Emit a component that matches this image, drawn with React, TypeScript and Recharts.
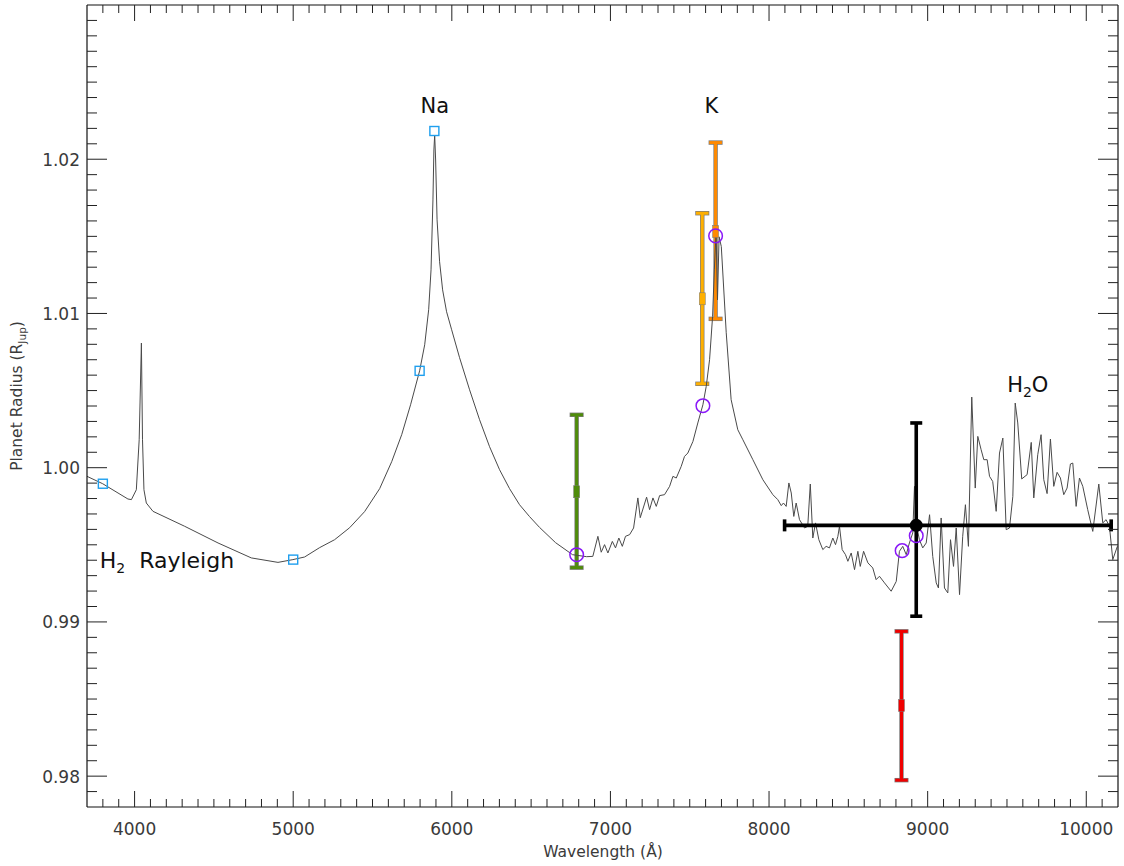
import React from 'react';
import { ComposedChart, Line, Scatter, XAxis, YAxis, ErrorBar, ReferenceDot } from 'recharts';

// Model transmission spectrum, split by region (wavelength in Å, radius in R_Jup)
const blueWavelength = [3700, 3799, 3958, 3980, 4011, 4029, 4043, 4050, 4059, 4074, 4116, 4316, 4526, 4736, 4904, 4998, 5072];
const blueRadius = [0.99944, 0.99896, 0.99797, 0.99793, 0.99857, 1.00181, 1.00808, 1.00181, 0.99857, 0.99771, 0.99717, 0.9962, 0.99512, 0.99415, 0.99386, 0.99404, 0.99421];

const sodiumWavelength = [
  5167, 5261, 5356, 5450, 5545, 5621, 5684, 5740, 5797, 5829, 5854, 5869, 5881, 5887, 5892, 5898, 5907,
  5923, 5942, 5967, 5999, 6049, 6112, 6175, 6238, 6301, 6364, 6427, 6490, 6553, 6654, 6761, 6850,
];
const sodiumRadius = [
  0.99482, 0.99533, 0.99611, 0.99715, 0.99864, 1.00039, 1.00214, 1.00408, 1.00628, 1.00797, 1.01024, 1.01283,
  1.01736, 1.0206, 1.02157, 1.01995, 1.01607, 1.01335, 1.01153, 1.01011, 1.00894, 1.00713, 1.00505, 1.00311,
  1.00136, 0.99987, 0.99864, 0.9976, 0.99683, 0.99613, 0.99514, 0.99436, 0.99423,
];

const redWingWavelength = [
  6889, 6921, 6942, 6963, 6984, 7012, 7032, 7053, 7075, 7095, 7121, 7146, 7173, 7188, 7228, 7247, 7268, 7289,
  7310, 7341, 7373, 7394, 7415, 7446, 7467, 7488, 7520, 7551, 7583, 7604,
];
const redWingRadius = [
  0.99425, 0.99555, 0.99452, 0.99501, 0.99447, 0.99522, 0.9948, 0.99544, 0.9949, 0.99555, 0.99566, 0.99609,
  0.99804, 0.99676, 0.99809, 0.99728, 0.99804, 0.99749, 0.99819, 0.99825, 0.99879, 0.99944, 0.99933, 1.00008,
  1.00073, 1.00095, 1.0017, 1.0029, 1.00408, 1.00527,
];

const potassiumWavelength = [7625, 7644, 7655, 7666, 7675, 7685, 7699, 7730, 7761, 7803, 7835, 7898, 7961, 8024];
const potassiumRadius = [1.007, 1.0098, 1.01283, 1.01529, 1.01088, 1.01497, 1.01434, 1.00875, 1.00441, 1.00246, 1.00181, 1.00052, 0.99922, 0.99825];

const nirWavelength = [
  8055, 8077, 8091, 8108, 8125, 8140, 8156, 8171, 8192, 8224, 8244, 8260, 8276, 8293, 8314, 8339, 8360, 8381,
  8402, 8419, 8434, 8444, 8461, 8482, 8497, 8518, 8539, 8560, 8575, 8596, 8623, 8654, 8675, 8696, 8728, 8770,
  8802, 8822, 8843, 8865, 8885, 8906, 8917, 8931, 8948, 8969, 8991, 9012, 9032, 9054, 9068,
];
const nirRadius = [
  0.99793, 0.99754, 0.99771, 0.99749, 0.99901, 0.99836, 0.99684, 0.99771, 0.99663, 0.99609, 0.9962, 0.99894,
  0.99544, 0.99642, 0.99533, 0.99469, 0.9949, 0.9948, 0.99544, 0.99501, 0.99555, 0.9962, 0.99469, 0.99436,
  0.99393, 0.99447, 0.99339, 0.99458, 0.9936, 0.99458, 0.99383, 0.9935, 0.99274, 0.99296, 0.99253, 0.99199,
  0.99263, 0.99458, 0.9949, 0.99436, 0.99512, 0.99577, 0.99879, 0.9962, 0.99533, 0.9948, 0.99512, 0.99695,
  0.99425, 0.99253, 0.9922,
];

const waterWavelength = [
  9085, 9106, 9127, 9144, 9163, 9180, 9201, 9221, 9238, 9257, 9278, 9300, 9316, 9337, 9354, 9375, 9390, 9410,
  9432, 9453, 9474, 9495, 9516, 9537, 9552, 9568, 9593, 9627, 9653, 9669, 9694, 9715, 9732, 9753, 9774, 9795,
  9816, 9837, 9858, 9879, 9900, 9915, 9936, 9957, 9978, 10009, 10041, 10079, 10104, 10125, 10146, 10167, 10196,
];
const waterRadius = [
  0.99674, 0.9922, 0.99188, 0.99533, 0.9936, 0.99609, 0.99177, 0.99555, 0.9976, 0.9949, 1.00458, 0.99868,
  1.00203, 1.00117, 1.00052, 1.00052, 0.99944, 0.99911, 0.99717, 1.00095, 1.00192, 0.99598, 0.99609, 0.99814,
  1.00419, 1.0029, 0.99927, 0.99955, 1.00164, 0.99804, 1.00084, 1.00214, 0.99922, 0.99832, 1.00186, 0.99879,
  0.9997, 0.99933, 0.99825, 0.99868, 1.00024, 1.0003, 0.99749, 0.99933, 0.99879, 0.99728, 0.99587, 0.99894,
  0.99642, 0.99663, 0.9962, 0.99404, 0.9949,
];

// Light-blue squares (binned model)
const squareWavelength = [3800, 5000, 5797, 5890];
const squareRadius = [0.99896, 0.99404, 1.00628, 1.02183];

// Purple circles
const circleWavelength = [6787, 7583, 7663, 8839, 8928];
const circleRadius = [0.99436, 1.00402, 1.01503, 0.99462, 0.99559];

// Colored measurements with vertical error bars
const greenPoint = { wavelength: 6787, radius: 0.99844, low: 0.00492, high: 0.00499 };
const yellowPoint = { wavelength: 7579, radius: 1.01095, low: 0.00551, high: 0.00555 };
const orangePoint = { wavelength: 7663, radius: 1.01531, low: 0.00566, high: 0.00577 };
const redPoint = { wavelength: 8835, radius: 0.98458, low: 0.00484, high: 0.00481 };
// Black broadband point with x and y error
const blackPoint = { wavelength: 8928, radius: 0.99626, low: 0.00589, high: 0.00664, left: 830, right: 1229 };

// Ticks
const xMajorTicks = [4000, 5000, 6000, 7000, 8000, 9000, 10000];
const yMajorTicks = [0.98, 0.99, 1.0, 1.01, 1.02];
const xTicks = Array.from({ length: 64 }, (_, i) => 3800 + i * 100);
const yTicks = Array.from({ length: 51 }, (_, i) => (979 + i) / 1000);

const modelWavelength = [
  ...blueWavelength, ...sodiumWavelength, ...redWingWavelength, ...potassiumWavelength, ...nirWavelength, ...waterWavelength,
];
const modelRadius = [...blueRadius, ...sodiumRadius, ...redWingRadius, ...potassiumRadius, ...nirRadius, ...waterRadius];

const modelData = modelWavelength.map((x, i) => ({ x, y: modelRadius[i] }));
const squareData = squareWavelength.map((x, i) => ({ x, y: squareRadius[i] }));
const circleData = circleWavelength.map((x, i) => ({ x, y: circleRadius[i] }));
const toErr = (p: any) => [{ x: p.wavelength, y: p.radius, ey: [p.low, p.high], ex: p.left ? [p.left, p.right] : 0 }];

const FONT = 'DejaVu Sans';
const TICK_COLOR = '#222';
const LABEL_COLOR = '#3a3a3a';

const isXMajor = (v: number) => xMajorTicks.includes(Math.round(v));
const isYMajor = (v: number) => yMajorTicks.some((t) => Math.abs(t - v) < 1e-6);

const BottomTick = (props: any) => {
  const { x, y, payload } = props;
  const major = isXMajor(payload.value);
  return (
    <g>
      <line x1={x} x2={x} y1={y} y2={y - (major ? 16 : 8)} stroke={TICK_COLOR} strokeWidth={1} />
      {major && (
        <text x={x} y={y + 28} textAnchor="middle" fontSize={17} fontFamily={FONT} fill={LABEL_COLOR}>
          {Math.round(payload.value)}
        </text>
      )}
    </g>
  );
};
const TopTick = (props: any) => {
  const { x, y, payload } = props;
  const major = isXMajor(payload.value);
  return <line x1={x} x2={x} y1={y} y2={y + (major ? 16 : 8)} stroke={TICK_COLOR} strokeWidth={1} />;
};
const LeftTick = (props: any) => {
  const { x, y, payload } = props;
  const major = isYMajor(payload.value);
  return (
    <g>
      <line x1={x} x2={x + (major ? 20 : 10)} y1={y} y2={y} stroke={TICK_COLOR} strokeWidth={1} />
      {major && (
        <text x={x - 7} y={y + 6.5} textAnchor="end" fontSize={17} fontFamily={FONT} fill={LABEL_COLOR}>
          {payload.value.toFixed(2)}
        </text>
      )}
    </g>
  );
};
const RightTick = (props: any) => {
  const { x, y, payload } = props;
  const major = isYMajor(payload.value);
  return <line x1={x} x2={x - (major ? 20 : 10)} y1={y} y2={y} stroke={TICK_COLOR} strokeWidth={1} />;
};

const squareShape = (props: any) => (
  <rect x={props.cx - 4.5} y={props.cy - 4.5} width={9} height={9} fill="none" stroke="#1F9FEE" strokeWidth={1.4} />
);
const circleShape = (props: any) => (
  <circle cx={props.cx} cy={props.cy} r={6.8} fill="none" stroke="#8A18F8" strokeWidth={1.5} />
);
const markShape = (color: string) => (props: any) => (
  <rect x={props.cx - 3} y={props.cy - 6} width={6} height={12} fill={color} stroke="#777" strokeWidth={0.5} />
);
const blackDot = (props: any) => <circle cx={props.cx} cy={props.cy} r={6.5} fill="#000" />;

const textLabel = (lines: React.ReactNode, anchor: string, size: number) => (props: any) => (
  <text x={props.cx} y={props.cy} textAnchor={anchor} fontSize={size} fontFamily={FONT} fill="#111">
    {lines}
  </text>
);

const errSeries = (p: any, color: string, key: string) => (
  <Scatter key={key} data={toErr(p)} dataKey="y" shape={markShape(color)} isAnimationActive={false}>
    <ErrorBar dataKey="ey" direction="y" width={7} strokeWidth={4.4} stroke="#7a7a7a" />
    <ErrorBar dataKey="ey" direction="y" width={6.3} strokeWidth={3} stroke={color} />
  </Scatter>
);

const axisLine = { stroke: '#111', strokeWidth: 1.2 };

export default function App() {
  return (
    <div style={{ position: 'absolute', left: 0, top: 0, width: 1124, height: 866, background: '#fff' }}>
      <ComposedChart width={1124} height={866} margin={{ top: 4, right: 5, bottom: 29, left: 27 }}>
        <XAxis
          xAxisId={0}
          dataKey="x"
          type="number"
          domain={[3700, 10200]}
          allowDataOverflow
          ticks={xTicks}
          interval={0}
          height={30}
          tickSize={0}
          tickMargin={0}
          tickLine={false}
          axisLine={axisLine}
          tick={<BottomTick />}
        />
        <XAxis
          xAxisId="top"
          orientation="top"
          dataKey="x"
          type="number"
          domain={[3700, 10200]}
          allowDataOverflow
          ticks={xTicks}
          interval={0}
          height={1}
          tickSize={0}
          tickMargin={0}
          tickLine={false}
          axisLine={axisLine}
          tick={<TopTick />}
        />
        <YAxis
          yAxisId={0}
          dataKey="y"
          type="number"
          domain={[0.978, 1.03]}
          allowDataOverflow
          ticks={yTicks}
          interval={0}
          width={60}
          tickSize={0}
          tickMargin={0}
          tickLine={false}
          axisLine={axisLine}
          tick={<LeftTick />}
        />
        <YAxis
          yAxisId="right"
          orientation="right"
          dataKey="y"
          type="number"
          domain={[0.978, 1.03]}
          allowDataOverflow
          ticks={yTicks}
          interval={0}
          width={1}
          tickSize={0}
          tickMargin={0}
          tickLine={false}
          axisLine={axisLine}
          tick={<RightTick />}
        />

        {errSeries(greenPoint, '#4F8C0A', 'g')}
        {errSeries(yellowPoint, '#FFB000', 'yl')}
        {errSeries(orangePoint, '#FF8A00', 'or')}
        {errSeries(redPoint, '#F00000', 'rd')}

        <Line
          data={modelData}
          dataKey="y"
          type="linear"
          stroke="#4a4a4a"
          strokeWidth={1}
          dot={false}
          activeDot={false}
          isAnimationActive={false}
        />

        <Scatter data={circleData} dataKey="y" shape={circleShape} isAnimationActive={false} />
        <Scatter data={squareData} dataKey="y" shape={squareShape} isAnimationActive={false} />

        <Scatter data={toErr(blackPoint)} dataKey="y" shape={blackDot} isAnimationActive={false}>
          <ErrorBar dataKey="ey" direction="y" width={6} strokeWidth={3.6} stroke="#000" />
          <ErrorBar dataKey="ex" direction="x" width={6} strokeWidth={3.6} stroke="#000" />
        </Scatter>

        <ReferenceDot x={5893} y={1.023} r={0} shape={textLabel('Na', 'middle', 21)} />
        <ReferenceDot x={7637} y={1.023} r={0} shape={textLabel('K', 'middle', 21)} />
        <ReferenceDot
          x={9501}
          y={1.00488}
          r={0}
          shape={textLabel(
            <>
              H<tspan fontSize={14} dy={5}>2</tspan>
              <tspan dy={-5}>O</tspan>
            </>,
            'start',
            21
          )}
        />
        <ReferenceDot
          x={3780}
          y={0.99352}
          r={0}
          shape={textLabel(
            <>
              H<tspan fontSize={14} dy={5}>2</tspan>
              <tspan dy={-5}>{'\u00a0\u00a0Rayleigh'}</tspan>
            </>,
            'start',
            22
          )}
        />
      </ComposedChart>
      <svg
        width={1124}
        height={866}
        style={{ position: 'absolute', left: 0, top: 0, pointerEvents: 'none' }}
      >
        <text x={603} y={857} textAnchor="middle" fontSize={15.5} fontFamily={FONT} fill={LABEL_COLOR}>
          Wavelength (Å)
        </text>
        <text
          transform="translate(22 396) rotate(-90)"
          textAnchor="middle"
          fontSize={15.5}
          fontFamily={FONT}
          fill={LABEL_COLOR}
        >
          Planet Radius (R<tspan fontSize={10.5} dy={4}>Jup</tspan>
          <tspan dy={-4}>)</tspan>
        </text>
      </svg>
    </div>
  );
}
